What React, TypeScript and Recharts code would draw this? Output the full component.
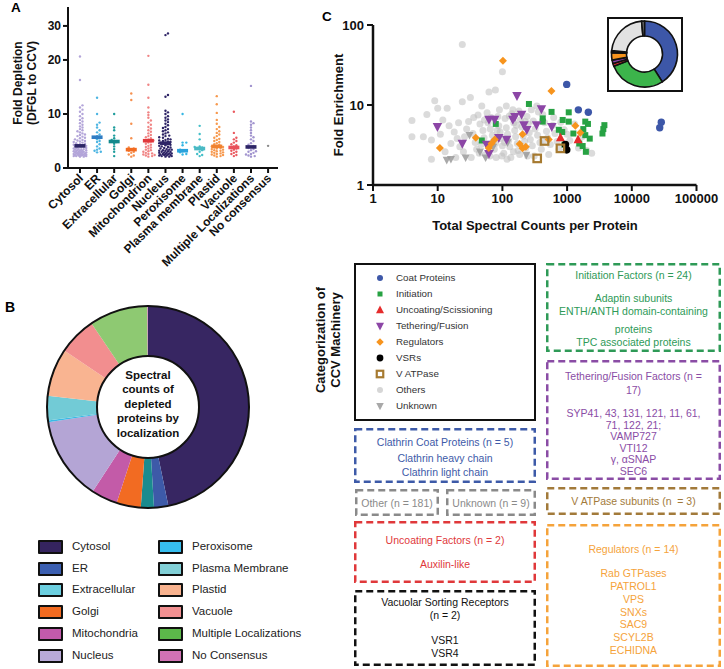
import React from 'react';
import { ScatterChart, Scatter, XAxis, YAxis, PieChart, Pie, Cell } from 'recharts';

const FONT = '"Liberation Sans", Arial, Helvetica, sans-serif';

// ─── Panel A: fold depletion by localization ─────────────────────────────────
const A_CATS = [
  'Cytosol', 'ER', 'Extracellular', 'Golgi', 'Mitochondrion', 'Nucleus', 'Peroxisome',
  'Plasma membrane', 'Plastid', 'Vacuole', 'Multiple Localizations', 'No consensus',
];
const A_CYTOSOL = [
  2.1, 2.1, 2.2, 2.2, 2.2, 2.3, 2.3, 2.3, 2.4, 2.4, 2.4, 2.5, 2.5, 2.5, 2.6, 2.6, 2.6, 2.7, 2.7, 2.8,
  2.8, 2.8, 2.9, 2.9, 3.0, 3.0, 3.0, 3.1, 3.1, 3.2, 3.2, 3.3, 3.3, 3.4, 3.4, 3.5, 3.5, 3.6, 3.6, 3.7,
  3.8, 3.8, 3.9, 4.0, 4.0, 4.1, 4.2, 4.2, 4.3, 4.4, 4.5, 4.6, 4.7, 4.8, 4.9, 5.0, 5.1, 5.2, 5.3, 5.5,
  5.6, 5.8, 5.9, 6.1, 6.2, 6.4, 6.6, 6.8, 7.0, 7.2, 7.5, 7.7, 8.0, 8.3, 8.6, 8.9, 9.2, 9.6, 10.0, 10.4,
  10.8, 11.2, 11.6, 16.3, 21.0,
];
const A_ER = [2.9, 3.0, 3.2, 3.4, 3.6, 4.0, 4.4, 4.8, 5.0, 5.3, 5.5, 5.7, 5.9, 6.2, 6.6, 7.0, 7.5, 8.0, 8.4, 10.0, 13.0];
const A_EXTRA = [2.2, 3.0, 3.5, 4.0, 4.5, 4.8, 5.0, 5.2, 5.5, 6.0, 7.0, 7.5, 10.0];
const A_GOLGI = [2.1, 2.3, 2.5, 2.8, 3.0, 3.2, 3.4, 3.6, 3.8, 5.5, 8.2, 12.6, 13.8];
const A_MITO = [
  2.1, 2.2, 2.3, 2.4, 2.5, 2.6, 2.7, 2.8, 3.0, 3.1, 3.3, 3.4, 3.6, 3.8, 3.9, 4.1, 4.3, 4.5, 4.7, 4.9,
  5.0, 5.1, 5.3, 5.5, 5.7, 5.9, 6.1, 6.4, 6.7, 7.0, 7.3, 7.6, 8.0, 8.4, 8.8, 9.3, 9.8, 10.3, 11.2, 13.0,
  15.4, 21.2,
];
const A_NUCLEUS = [
  2.1, 2.1, 2.2, 2.2, 2.3, 2.3, 2.4, 2.4, 2.5, 2.5, 2.6, 2.6, 2.7, 2.7, 2.8, 2.8, 2.9, 3.0, 3.0, 3.1,
  3.2, 3.2, 3.3, 3.4, 3.4, 3.5, 3.6, 3.7, 3.8, 3.9, 4.0, 4.1, 4.2, 4.3, 4.4, 4.5, 4.6, 4.7, 4.8, 4.9,
  5.0, 5.1, 5.2, 5.3, 5.4, 5.6, 5.7, 5.9, 6.0, 6.2, 6.4, 6.6, 6.8, 7.0, 7.2, 7.4, 7.6, 7.9, 8.2, 8.5,
  8.8, 9.0, 9.3, 9.6, 10.0, 10.3, 10.6, 13.2, 13.5, 27.3, 27.8,
];
const A_PEROX = [2.5, 2.6, 2.9, 3.1, 3.2, 3.4, 4.2, 4.7, 4.7, 10.0];
const A_PM = [2.2, 2.4, 2.6, 3.0, 3.3, 3.5, 3.7, 3.8, 3.9, 4.0, 5.3, 6.3, 7.8];
const A_PLASTID = [
  2.1, 2.2, 2.3, 2.4, 2.5, 2.6, 2.7, 2.8, 2.9, 3.0, 3.1, 3.2, 3.3, 3.4, 3.5, 3.6, 3.7, 3.8, 3.9, 4.0,
  4.1, 4.3, 4.4, 4.6, 4.8, 5.0, 5.2, 5.4, 5.6, 5.9, 6.2, 6.5, 6.8, 7.2, 7.6, 8.2, 8.9, 10.2, 11.8, 13.3,
];
const A_VACUOLE = [2.2, 2.4, 2.6, 2.8, 3.0, 3.2, 3.4, 3.6, 3.8, 4.0, 4.2, 4.4, 4.7, 5.0, 5.3, 5.6, 6.5, 10.4];
const A_MULTI = [
  2.1, 2.2, 2.3, 2.5, 2.6, 2.8, 3.0, 3.1, 3.3, 3.5, 3.7, 3.9, 4.1, 4.3, 4.6, 5.0, 5.3, 5.7, 6.0, 6.5,
  7.0, 7.5, 8.0, 8.3, 8.6, 15.2,
];
const A_NOCON = [4.1];
const A_SERIES = [A_CYTOSOL, A_ER, A_EXTRA, A_GOLGI, A_MITO, A_NUCLEUS, A_PEROX, A_PM, A_PLASTID, A_VACUOLE, A_MULTI, A_NOCON];
const A_MEDIANS = [4.1, 5.7, 4.9, 3.4, 5.05, 4.6, 3.2, 3.6, 4.0, 3.8, 3.9, null];
const A_DOT = ['#b3a5d9', '#4db5e2', '#1f9d9c', '#f6904f', '#f08585', '#2e2466', '#35b6e3', '#45bfc9', '#f7994e', '#ea5a60', '#a295cf', '#8a8a8a'];
const A_BAR = ['#2d2566', '#2f7dc4', '#12898c', '#f26b21', '#e0393d', '#2d2566', '#2aa2dc', '#4ab9c4', '#f0822f', '#e8505a', '#2d2566', '#8a8a8a'];
const A_TICKS = [0, 10, 20, 30];

// ─── Panel B: spectral counts by localization ───────────────────────────────
const B_NAMES = [
  'Cytosol', 'ER', 'Extracellular', 'Golgi', 'Mitochondria', 'Nucleus',
  'Peroxisome', 'Plasma Membrane', 'Plastid', 'Vacuole', 'Multiple Localizations', 'No Consensus',
];
const B_SHARE = [46.9, 2.3, 2.1, 3.9, 4.2, 13.4, 0.3, 3.9, 7.7, 6.1, 9.4, 0.1];
const B_SLICE = ['#372662', '#3d5aa8', '#1a8b8e', '#f26b22', '#c35ba8', '#b4a5d5', '#3bb9e6', '#72cbd6', '#f9b491', '#f28e8f', '#8ec972', '#d070b0'];
const B_SWATCH = ['#35245f', '#3b5fb1', '#6ccfe0', '#f26b21', '#c25aab', '#b9aad9', '#36bdee', '#82d0d7', '#f9b38f', '#f29091', '#5cb84a', '#d272b5'];

// ─── Panel C: CCV machinery ──────────────────────────────────────────────────
const C_COAT = [[986, 18.1], [1493, 8.7], [2128, 8.1], [28560, 6.1], [27000, 5.2]];
const C_INIT = [
  [257, 10.3], [420, 6.8], [420, 6.2], [575, 8.2], [855, 6.5], [1060, 8.1], [1060, 6.2], [745, 4.9],
  [1250, 4.4], [1780, 5.0], [1910, 6.2], [2100, 5.8], [1910, 4.2], [2240, 3.8], [3770, 5.6], [3630, 5.0],
  [3520, 4.4], [1540, 3.3], [1740, 3.07], [1950, 2.6], [79, 5.8], [48, 3.6], [910, 3.2], [840, 4.6],
];
const C_UNCOAT = [[789, 3.9], [1476, 3.7]];
const C_TETHER = [
  [9.9, 5.35], [24, 3.3], [57, 3.2], [62, 2.45], [62, 6.6], [76, 6.6], [88, 3.9], [168, 13], [145, 6.6],
  [156, 7.1], [198, 7.6], [215, 5.6], [238, 4.9], [337, 5.6], [401, 8.9], [580, 5.35], [116, 3.7],
];
const C_REG = [
  [102, 35.8], [573, 15], [1343, 5.5], [10.8, 2.9], [38.8, 3.9], [61.5, 2.9], [76, 3.7], [205, 4.3],
  [185, 3.25], [205, 2.87], [521, 3.7], [1600, 4.5], [68, 3.3], [230, 3.0],
];
const C_VSR = [[942, 3.2], [986, 2.75]];
const C_VATP = [[448, 3.55], [789, 2.87], [345, 2.15]];
const C_UNKNOWN = [[13.8, 2.05], [16, 2.1], [27, 2.2], [31, 4.2], [55, 2.2], [45, 2.6], [234, 2.37], [72, 3.0], [120, 3.4]];
const C_OTHERS = [
  [24, 57], [100, 26], [78, 15.4], [62, 14.5], [9, 11.3], [24, 11], [32, 12.4], [4, 6.4], [4, 4], [6.8, 7.6],
  [10, 9.1], [14, 9.1], [6, 4], [8, 3.65], [8, 2.1], [48, 9.7], [67, 7], [90, 8.7], [115, 9.7], [145, 8.7],
  [280, 8.7], [340, 9.7], [12, 6.5], [15, 5.5], [18, 4.6], [20, 3.8], [22, 3.0], [25, 2.6], [28, 5.0], [30, 6.2],
  [35, 4.4], [38, 3.4], [40, 2.8], [42, 7.5], [45, 5.8], [50, 4.8], [52, 3.9], [55, 2.4], [58, 8.0], [60, 6.0],
  [65, 5.0], [70, 4.2], [72, 3.5], [75, 2.8], [80, 2.2], [85, 7.2], [88, 5.5], [92, 4.6], [95, 3.8], [100, 3.1],
  [105, 2.5], [110, 6.8], [115, 5.2], [120, 4.3], [125, 3.6], [130, 3.0], [135, 2.2], [140, 7.8], [150, 6.0], [155, 4.8],
  [160, 4.0], [170, 3.3], [175, 2.7], [180, 8.4], [190, 6.5], [200, 5.3], [210, 4.1], [220, 3.5], [230, 2.9], [240, 7.2],
  [250, 5.8], [260, 4.5], [270, 3.7], [290, 3.1], [300, 6.3], [320, 5.0], [350, 4.2], [380, 3.4], [400, 2.8], [420, 7.6],
  [450, 6.0], [480, 4.7], [500, 3.9], [550, 3.2], [600, 5.6], [650, 4.4], [700, 3.5], [750, 2.8], [800, 6.1], [900, 4.9],
  [1000, 4.3], [1100, 3.6], [1300, 5.8], [1500, 2.9], [1700, 4.0], [2000, 2.7], [2400, 2.5], [13, 2.6], [16, 3.3], [19, 2.2],
  [26, 4.0], [33, 2.2], [36, 7.0], [44, 2.5], [47, 3.2], [53, 6.5], [64, 2.3], [78, 3.3], [83, 4.8], [98, 2.3],
  [108, 3.4], [118, 2.1], [128, 7.3], [148, 2.6], [165, 5.6], [185, 2.4], [225, 6.2], [245, 2.3], [310, 2.3], [360, 8.2],
  [440, 3.6], [520, 2.4], [620, 7.0], [11, 4.3], [21, 6.0],
];
const C_INSET_NAMES = ['Coat Proteins', 'Initiation', 'Uncoating/Scissioning', 'Tethering/Fusion', 'Regulators', 'VSRs', 'V ATPase', 'Others', 'Unknown'];
const C_INSET_SHARE = [41, 28, 1.4, 1.7, 3.6, 0.6, 0.4, 22, 1.4];
const C_INSET_COLORS = ['#3d57a8', '#3cb44b', '#e03030', '#8e44ad', '#f7941d', '#111111', '#a67a30', '#e2e2e2', '#777777'];

// ─── helpers ─────────────────────────────────────────────────────────────────
// Prism-style segmented y axis: 0–20 at full scale, above 20 compressed
const brk = (v: number) => (v <= 20 ? v : 20 + ((v - 20) * 34) / 54);
const unbrk = (t: number) => (t <= 20 ? t : 20 + ((t - 20) * 54) / 34);

const A_TOP = 29.8;
const A_PX_Y = 161 / A_TOP;
const A_XDOM = [-0.7, 11.58];
const A_PX_X = 210 / (A_XDOM[1] - A_XDOM[0]);

// deterministic beeswarm offsets (px) for sorted values
function swarm(vals: number[]) {
  const placed: [number, number][] = [];
  return vals.map(v => {
    const py = brk(v) * A_PX_Y;
    let best = 0;
    let bestD = -1;
    for (let k = 0; k < 11; k++) {
      const off = (k % 2 ? 1 : -1) * Math.ceil(k / 2) * 1.25;
      let dmin = Infinity;
      for (const [qx, qy] of placed) {
        const d = Math.hypot(qx - off, qy - py);
        if (d < dmin) dmin = d;
      }
      if (dmin >= 2.6) { best = off; break; }
      if (dmin > bestD) { bestD = dmin; best = off; }
    }
    placed.push([best, py]);
    return best;
  });
}

const aPoints = A_SERIES.map((vals, i) => {
  const s = [...vals].sort((a, b) => a - b);
  const offs = swarm(s);
  return s.map((v, j) => ({ x: i + offs[j] / A_PX_X, y: brk(v) }));
});

const toXY = (arr: number[][]) => arr.map(([x, y]) => ({ x, y }));

const Txt = ({ x, y, size, bold, color = '#111', rot, anchor = 'middle', lh, children }: any) => {
  const tx = anchor === 'middle' ? '-50%' : anchor === 'end' ? '-100%' : '0';
  return (
    <div
      style={{
        position: 'absolute', left: x, top: y, fontSize: size, fontWeight: bold ? 700 : 400, color,
        whiteSpace: 'pre', lineHeight: lh ? `${lh}px` : 1, textAlign: 'center',
        transform: `translate(${tx},-50%)${rot ? ` rotate(${rot}deg)` : ''}`,
      }}
    >
      {children}
    </div>
  );
};

const CatTick = (p: any) => (
  <text
    x={p.x + 4}
    y={p.y + 4}
    transform={`rotate(-45 ${p.x + 4} ${p.y + 4})`}
    textAnchor="end"
    fontSize={12}
    fontWeight={700}
    fill="#111"
  >
    {A_CATS[p.payload.value]}
  </text>
);

// marker shapes for panel C
const circ = (r: number, fill: string, op = 1) => (p: any) => <circle cx={p.cx} cy={p.cy} r={r} fill={fill} fillOpacity={op} />;
const sq = (s: number, fill: string) => (p: any) => <rect x={p.cx - s / 2} y={p.cy - s / 2} width={s} height={s} fill={fill} />;
const hollowSq = (s: number, stroke: string) => (p: any) => (
  <rect x={p.cx - s / 2} y={p.cy - s / 2} width={s} height={s} fill="#fff" fillOpacity={0} stroke={stroke} strokeWidth={2.2} />
);
const triUp = (s: number, fill: string) => (p: any) => (
  <polygon points={`${p.cx},${p.cy - s * 0.55} ${p.cx + s / 2},${p.cy + s * 0.4} ${p.cx - s / 2},${p.cy + s * 0.4}`} fill={fill} />
);
const triDown = (s: number, fill: string, op = 1) => (p: any) => (
  <polygon points={`${p.cx},${p.cy + s * 0.55} ${p.cx + s / 2},${p.cy - s * 0.4} ${p.cx - s / 2},${p.cy - s * 0.4}`} fill={fill} fillOpacity={op} />
);
const diamond = (s: number, fill: string) => (p: any) => (
  <polygon points={`${p.cx},${p.cy - s / 2} ${p.cx + s / 2},${p.cy} ${p.cx},${p.cy + s / 2} ${p.cx - s / 2},${p.cy}`} fill={fill} />
);

const C_LEGEND: [string, any][] = [
  ['Coat Proteins', circ(3, '#3d57a8')],
  ['Initiation', sq(5, '#27a243')],
  ['Uncoating/Scissioning', triUp(8, '#e52b2b')],
  ['Tethering/Fusion', triDown(8, '#8c46a6')],
  ['Regulators', diamond(7.5, '#f7941d')],
  ['VSRs', circ(3.4, '#000')],
  ['V ATPase', hollowSq(6.5, '#a67a30')],
  ['Others', circ(3, '#d6d6d6')],
  ['Unknown', triDown(7.5, '#a8a8a8')],
];

const DashBox = ({ x, y, w, h, color, dash = true, lines = [], size = 10.5 }: any) => (
  <div style={{ position: 'absolute', left: x, top: y, width: w, height: h }}>
    <svg width={w} height={h} style={{ position: 'absolute', left: 0, top: 0 }}>
      <rect
        x={1.25} y={1.25} width={w - 2.5} height={h - 2.5} fill="none" stroke={color}
        strokeWidth={2.5} strokeDasharray={dash ? '7 4' : undefined}
      />
    </svg>
    {lines.map(([t, ty]: [string, number], i: number) => (
      <Txt key={i} x={w / 2} y={ty} size={size} color={color}>{t}</Txt>
    ))}
  </div>
);

export default function App() {
  const cAxisTick = { fontSize: 13, fontWeight: 700, fill: '#111' };
  return (
    <div style={{ position: 'absolute', left: 0, top: 0, width: 724, height: 669, background: '#fff', fontFamily: FONT, overflow: 'hidden' }}>
      {/* ── Panel A ── */}
      <div style={{ position: 'absolute', left: 11, top: 1, fontSize: 13.5, fontWeight: 700, lineHeight: 1 }}>A</div>
      <Txt x={18} y={83} size={12} bold rot={-90}>Fold Depletion</Txt>
      <Txt x={32} y={83} size={12} bold rot={-90}>(DFGL to CCV)</Txt>
      <div style={{ position: 'absolute', left: 0, top: 0 }}>
        <ScatterChart width={290} height={278} margin={{ top: 7, right: 12, bottom: 0, left: 0 }}>
          <XAxis
            type="number" dataKey="x" domain={A_XDOM} allowDataOverflow ticks={A_CATS.map((_, i) => i)}
            interval={0} height={110} tick={<CatTick />} tickSize={5}
            axisLine={{ stroke: '#111', strokeWidth: 2 }} tickLine={{ stroke: '#111', strokeWidth: 2 }}
          />
          <YAxis
            type="number" dataKey="y" domain={[0, A_TOP]} allowDataOverflow width={68}
            ticks={A_TICKS.map(brk)} interval={0} tickFormatter={(t: number) => String(Math.round(unbrk(t)))}
            tick={{ fontSize: 12, fontWeight: 700, fill: '#111' }} tickSize={5}
            axisLine={{ stroke: '#111', strokeWidth: 2 }} tickLine={{ stroke: '#111', strokeWidth: 2 }}
          />
          {aPoints.map((pts, i) => (
            <Scatter
              key={`d${i}`} data={pts} isAnimationActive={false}
              shape={(p: any) => <circle cx={p.cx} cy={p.cy} r={1.2} fill={A_DOT[i]} />}
            />
          ))}
          {A_MEDIANS.map((m, i) => m == null ? null : (
            <Scatter
              key={`m${i}`} data={[{ x: i, y: brk(m) }]} isAnimationActive={false}
              shape={(p: any) => <rect x={p.cx - 5.5} y={p.cy - 1.8} width={11} height={3.6} fill={A_BAR[i]} />}
            />
          ))}
        </ScatterChart>
      </div>

      {/* ── Panel B ── */}
      <div style={{ position: 'absolute', left: 5, top: 300, fontSize: 14, fontWeight: 700, lineHeight: 1 }}>B</div>
      <div style={{ position: 'absolute', left: 148 - 105, top: 407 - 105 }}>
        <PieChart width={210} height={210} margin={{ top: 0, right: 0, bottom: 0, left: 0 }}>
          <Pie
            data={B_NAMES.map((name, i) => ({ name, value: B_SHARE[i] }))} dataKey="value"
            cx={105} cy={105} innerRadius={50} outerRadius={101} startAngle={90} endAngle={-270}
            stroke="none" isAnimationActive={false}
          >
            {B_NAMES.map((n, i) => <Cell key={n} fill={B_SLICE[i]} />)}
          </Pie>
        </PieChart>
      </div>
      <div style={{ position: 'absolute', left: 148 - 102, top: 407 - 102, width: 204, height: 204, borderRadius: '50%', border: '2px solid #111', boxSizing: 'border-box' }} />
      <div style={{ position: 'absolute', left: 148 - 52, top: 407 - 52, width: 104, height: 104, borderRadius: '50%', border: '2px solid #111', boxSizing: 'border-box', background: '#fff' }} />
      <Txt x={148} y={404} size={11.5} bold lh={14.4}>{'Spectral\ncounts of\ndepleted\nproteins by\nlocalization'}</Txt>
      {B_NAMES.map((n, i) => {
        const col = i < 6 ? 0 : 1;
        const row = i % 6;
        const sx = col ? 158 : 38;
        const cy = 547 + row * 21.7;
        return (
          <React.Fragment key={n}>
            <div style={{ position: 'absolute', left: sx, top: cy - 7, width: 25, height: 14, background: B_SWATCH[i], border: '2px solid #111', boxSizing: 'border-box', borderRadius: 1 }} />
            <Txt x={sx + 34} y={cy} size={11.5} anchor="start" color="#222">{n}</Txt>
          </React.Fragment>
        );
      })}

      {/* ── Panel C ── */}
      <div style={{ position: 'absolute', left: 322, top: 9.5, fontSize: 13.5, fontWeight: 700, lineHeight: 1 }}>C</div>
      <Txt x={338} y={105} size={13} bold rot={-90}>Fold Enrichment</Txt>
      <Txt x={535} y={225} size={13} bold>Total Spectral Counts per Protein</Txt>
      <div style={{ position: 'absolute', left: 300, top: 10 }}>
        <ScatterChart width={420} height={210} margin={{ top: 15, right: 23.5, bottom: 5, left: 0 }}>
          <XAxis
            type="number" dataKey="x" scale="log" domain={[1, 100000]} allowDataOverflow
            ticks={[1, 10, 100, 1000, 10000, 100000]} interval={0} height={30} tick={cAxisTick} tickSize={6} tickMargin={3}
            axisLine={{ stroke: '#111', strokeWidth: 2.5 }} tickLine={{ stroke: '#111', strokeWidth: 2 }}
          />
          <YAxis
            type="number" dataKey="y" scale="log" domain={[1, 100]} allowDataOverflow width={73}
            ticks={[1, 10, 100]} interval={0} tick={cAxisTick} tickSize={6} tickMargin={3}
            axisLine={{ stroke: '#111', strokeWidth: 2.5 }} tickLine={{ stroke: '#111', strokeWidth: 2 }}
          />
          <Scatter data={toXY(C_OTHERS)} isAnimationActive={false} shape={circ(3.5, '#bdbdbd', 0.55)} />
          <Scatter data={toXY(C_UNKNOWN)} isAnimationActive={false} shape={triDown(8, '#9a9a9a', 0.85)} />
          <Scatter data={toXY(C_COAT)} isAnimationActive={false} shape={circ(3.7, '#3d57a8')} />
          <Scatter data={toXY(C_INIT)} isAnimationActive={false} shape={sq(6, '#27a243')} />
          <Scatter data={toXY(C_UNCOAT)} isAnimationActive={false} shape={triUp(9, '#e52b2b')} />
          <Scatter data={toXY(C_TETHER)} isAnimationActive={false} shape={triDown(9.5, '#8c46a6')} />
          <Scatter data={toXY(C_REG)} isAnimationActive={false} shape={diamond(8, '#f7941d')} />
          <Scatter data={toXY(C_VSR)} isAnimationActive={false} shape={circ(3.8, '#000')} />
          <Scatter data={toXY(C_VATP)} isAnimationActive={false} shape={hollowSq(7.5, '#a67a30')} />
        </ScatterChart>
      </div>
      <div style={{ position: 'absolute', left: 607, top: 17, width: 76, height: 75, border: '2px solid #111', boxSizing: 'border-box', background: '#fff' }}>
        <PieChart width={72} height={71} margin={{ top: 0, right: 0, bottom: 0, left: 0 }}>
          <Pie
            data={C_INSET_NAMES.map((name, i) => ({ name, value: C_INSET_SHARE[i] }))} dataKey="value"
            cx={35.5} cy={35} innerRadius={18} outerRadius={33} startAngle={90} endAngle={-270}
            stroke="#111" strokeWidth={1.6} isAnimationActive={false}
          >
            {C_INSET_NAMES.map((n, i) => <Cell key={n} fill={C_INSET_COLORS[i]} />)}
          </Pie>
        </PieChart>
      </div>

      {/* ── Categorization boxes ── */}
      <Txt x={320} y={340} size={13} bold rot={-90}>Categorization of</Txt>
      <Txt x={335} y={340} size={13} bold rot={-90}>CCV Machinery</Txt>

      <div style={{ position: 'absolute', left: 354, top: 263, width: 182, height: 158, border: '2.5px solid #111', boxSizing: 'border-box' }}>
        {C_LEGEND.map(([label, shape], i) => {
          const cy = 13 + i * 16;
          return (
            <React.Fragment key={label}>
              <svg width={14} height={14} style={{ position: 'absolute', left: 17, top: cy - 7 }}>
                {shape({ cx: 7, cy: 7 })}
              </svg>
              <Txt x={40} y={cy} size={9.8} anchor="start" color="#333">{label}</Txt>
            </React.Fragment>
          );
        })}
      </div>

      <DashBox x={354} y={428} w={182} h={55} color="#3d5aa8"
        lines={[['Clathrin Coat Proteins (n = 5)', 14], ['Clathrin heavy chain', 30], ['Clathrin light chain', 44]]} />
      <DashBox x={355} y={489} w={84} h={27} color="#8a8a8a" lines={[['Other (n = 181)', 13.5]]} />
      <DashBox x={446} y={489} w={90} h={27} color="#8a8a8a" lines={[['Unknown (n = 9)', 13.5]]} />
      <DashBox x={354} y={521} w={182} h={62} color="#e0383a"
        lines={[['Uncoating Factors (n = 2)', 19], ['Auxilin-like', 43]]} />
      <DashBox x={354} y={590} w={182} h={76} color="#111"
        lines={[['Vacuolar Sorting Receptors', 12], ['(n = 2)', 25], ['VSR1', 50], ['VSR4', 63]]} />

      <DashBox x={546} y={263} w={175} h={89} color="#2e9a57"
        lines={[['Initiation Factors (n = 24)', 12], ['Adaptin subunits', 35], ['ENTH/ANTH domain-containing', 48], ['proteins', 66], ['TPC associated proteins', 79]]} />
      <DashBox x={546} y={360} w={175} h={120} color="#8a4ca5"
        lines={[
          ['Tethering/Fusion Factors (n =', 16], ['17)', 30], ['SYP41, 43, 131, 121, 11, 61,', 53], ['71, 122, 21;', 64.5],
          ['VAMP727', 76], ['VTI12', 87.5], ['γ, αSNAP', 99], ['SEC6', 110.5],
        ]} />
      <DashBox x={546} y={487} w={175} h={28} color="#a27a3a" lines={[['V ATPase subunits (n  = 3)', 14]]} />
      <DashBox x={546} y={524} w={175} h={143} color="#f5a33b"
        lines={[
          ['Regulators (n = 14)', 25], ['Rab GTPases', 49], ['PATROL1', 62], ['VPS', 75], ['SNXs', 87.5],
          ['SAC9', 100], ['SCYL2B', 113], ['ECHIDNA', 126],
        ]} />
    </div>
  );
}
